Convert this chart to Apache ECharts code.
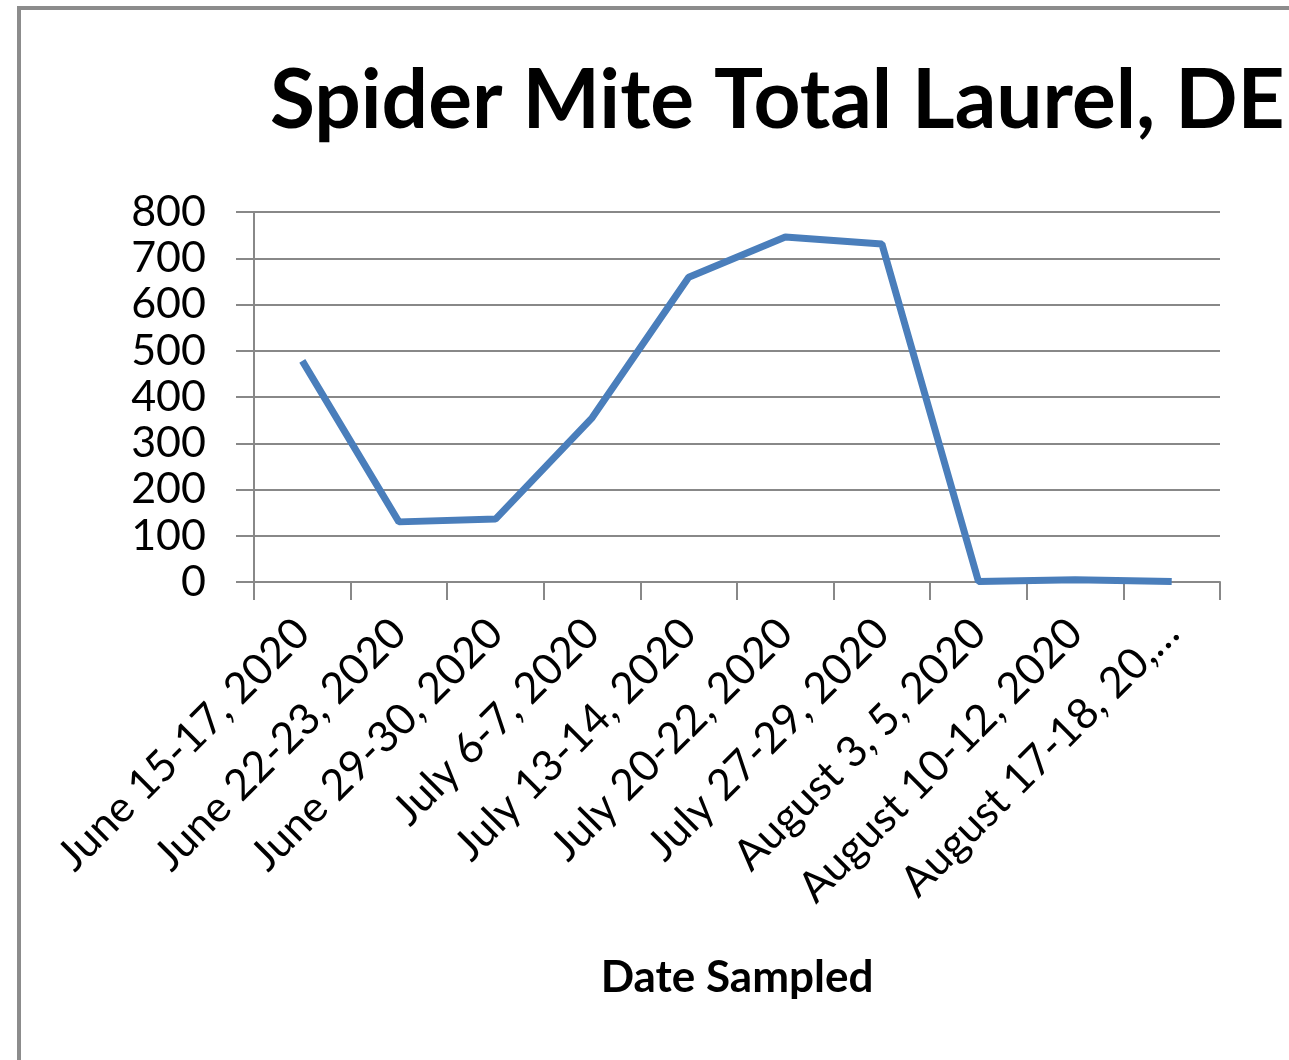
<!DOCTYPE html>
<html><head><meta charset="utf-8">
<script src="https://cdn.jsdelivr.net/npm/echarts@6/dist/echarts.min.js"></script>
<style>
html,body{margin:0;padding:0;background:#fff;}
#frame{position:absolute;left:17px;top:6px;width:1400px;height:1200px;border-left:4px solid #8c8c8c;border-top:4px solid #8c8c8c;}
#chart{position:absolute;left:0;top:0;width:1289px;height:1060px;}
</style></head>
<body>
<div id="frame"></div>
<div id="chart"></div>
<script>
const categories = ["June 15-17, 2020","June 22-23, 2020","June 29-30, 2020","July 6-7, 2020","July 13-14, 2020","July 20-22, 2020","July 27-29, 2020","August 3, 5, 2020","August 10-12, 2020","August 17-18, 20,…"];
const totals = [478, 130, 136, 355, 659, 746, 731, 1, 5, 1];
const yTicks = [0, 100, 200, 300, 400, 500, 600, 700, 800];

const chart = echarts.init(document.getElementById('chart'), null, {renderer:'canvas'});
chart.setOption({
  animation:false,
  backgroundColor:'transparent',
  title:{text:'Spider Mite Total Laurel, DE',left:265,top:56,
    textStyle:{fontFamily:'Lato',fontWeight:'bold',fontSize:82,color:'#000'}},
  grid:{left:254,right:69,top:212,bottom:478,containLabel:false},
  xAxis:{type:'category',data:categories,boundaryGap:true,
    name:'Date Sampled',nameLocation:'middle',nameGap:374,
    nameTextStyle:{fontFamily:'Lato',fontWeight:'bold',fontSize:44,color:'#000'},
    axisLine:{lineStyle:{color:'#888',width:2}},
    axisTick:{show:true,length:18,lineStyle:{color:'#888',width:2},alignWithLabel:false},
    axisLabel:{rotate:45,interval:0,margin:44,fontFamily:'Lato',fontSize:43,color:'#000'}},
  yAxis:{type:'value',min:yTicks[0],max:yTicks[yTicks.length-1],interval:100,
    axisLine:{show:true,lineStyle:{color:'#888',width:2}},
    axisTick:{show:true,length:18,lineStyle:{color:'#888',width:2}},
    splitLine:{lineStyle:{color:'#888',width:2}},
    axisLabel:{margin:48,fontFamily:'Lato',fontSize:43,color:'#000'}},
  series:[{type:'line',data:totals,symbol:'none',lineStyle:{color:'#4a7ebb',width:7},z:3}]
});
</script>
</body></html>
